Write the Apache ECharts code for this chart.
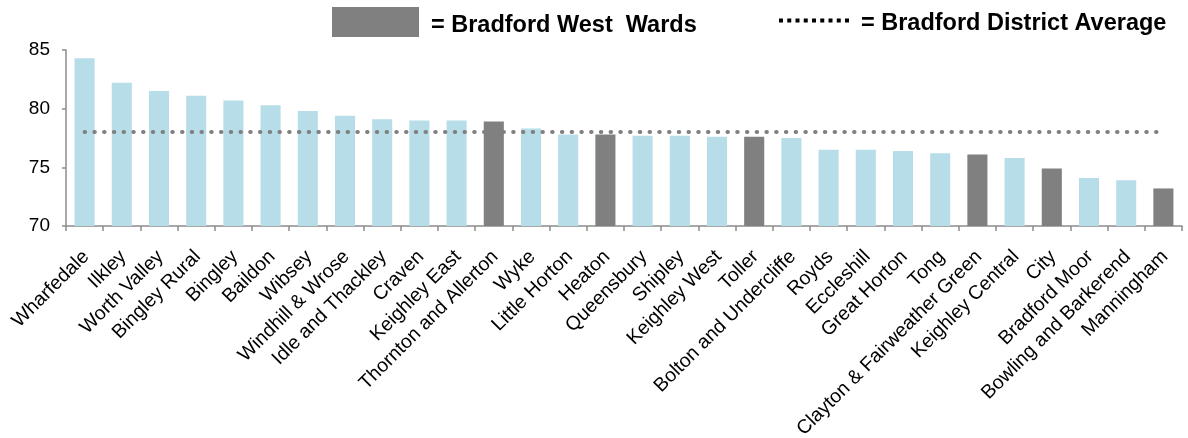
<!DOCTYPE html>
<html>
<head>
<meta charset="utf-8">
<script src="https://cdn.jsdelivr.net/npm/echarts@6/dist/echarts.min.js"></script>
<style>
html,body{margin:0;padding:0;background:#fff;}
#chart{width:1188px;height:438px;}
</style>
</head>
<body>
<div id="chart"></div>
<script>
const wards = ['Wharfedale','Ilkley','Worth Valley','Bingley Rural','Bingley','Baildon','Wibsey','Windhill & Wrose','Idle and Thackley','Craven','Keighley East','Thornton and Allerton','Wyke','Little Horton','Heaton','Queensbury','Shipley','Keighley West','Toller','Bolton and Undercliffe','Royds','Eccleshill','Great Horton','Tong','Clayton & Fairweather Green','Keighley Central','City','Bradford Moor','Bowling and Barkerend','Manningham'];
const values = [84.3,82.2,81.5,81.1,80.7,80.3,79.8,79.4,79.1,79.0,79.0,78.9,78.3,77.8,77.8,77.7,77.7,77.6,77.6,77.5,76.5,76.5,76.4,76.2,76.1,75.8,74.9,74.1,73.9,73.2];
const westWards = ['Thornton and Allerton','Heaton','Toller','Clayton & Fairweather Green','City','Manningham'];
const districtAverage = 78.0;
const yTicks = [70, 75, 80, 85];

const GRAY = '#808080';
const BLUE = '#b7dde8';
const AXIS = '#8c8c8c';
const FONT = '"Liberation Sans", Arial, sans-serif';

// legend icon: a row of small square dots
const dotIcon = 'path://' + Array.from({ length: 9 }, (_, k) => {
  const x = k * 8.25;
  return 'M' + x + ',0h4v4h-4z';
}).join(' ');

const legendText = {
  fontFamily: FONT, fontWeight: 'bold', fontSize: 23.5, color: '#000', padding: [0, 0, 0, 7],
  rich: { t: { fontFamily: FONT, fontWeight: 'bold', fontSize: 23.5, color: '#000', padding: [7, 0, 0, 0] } }
};

const barData = wards.map((w, i) => ({
  value: values[i],
  itemStyle: { color: westWards.includes(w) ? GRAY : BLUE }
}));

const chart = echarts.init(document.getElementById('chart'), null, { renderer: 'canvas' });
chart.setOption({
  animation: false,
  backgroundColor: '#fff',
  grid: { left: 66, right: 6, top: 50, bottom: 212, containLabel: false, outerBoundsMode: 'none' },
  legend: [
    {
      data: ['= Bradford West  Wards'],
      left: 332, top: 7, padding: 0,
      icon: 'rect', itemWidth: 87, itemHeight: 30,
      formatter: '{t|{name}}',
      textStyle: legendText,
      selectedMode: false
    },
    {
      data: [{ name: '= Bradford District Average', icon: dotIcon }],
      left: 779, top: 12, padding: 0,
      itemWidth: 70, itemHeight: 4,
      itemStyle: { color: '#000', borderWidth: 0 },
      formatter: '{t|{name}}',
      textStyle: legendText,
      selectedMode: false
    }
  ],
  xAxis: {
    type: 'category',
    data: wards,
    boundaryGap: true,
    axisLine: { show: true, lineStyle: { color: AXIS, width: 1.5 } },
    axisTick: { show: true, alignWithLabel: false, length: 5, lineStyle: { color: AXIS, width: 1.5 } },
    axisLabel: {
      interval: 0, rotate: 45, margin: 15, verticalAlign: 'top', padding: [0, 8, 0, 0],
      fontFamily: FONT, fontSize: 19.5, color: '#000'
    },
    splitLine: { show: false }
  },
  yAxis: {
    type: 'value',
    min: yTicks[0], max: yTicks[yTicks.length - 1], interval: 5,
    axisLine: { show: true, lineStyle: { color: AXIS, width: 1.5 } },
    axisTick: { show: true, length: 4, lineStyle: { color: AXIS, width: 1.5 } },
    axisLabel: { margin: 16, fontFamily: FONT, fontSize: 19, color: '#000' },
    splitLine: { show: false }
  },
  series: [
    {
      name: '= Bradford West  Wards',
      type: 'bar',
      data: barData,
      barCategoryGap: '46%',
      itemStyle: { color: GRAY },
      silent: true
    },
    {
      name: '= Bradford District Average',
      type: 'line',
      data: [],
      symbol: 'none',
      showSymbol: false,
      lineStyle: { color: GRAY, width: 4, type: [0.5, 9.24], cap: 'round' },
      itemStyle: { color: '#000' },
      silent: true,
      markLine: {
        silent: true,
        symbol: 'none',
        label: { show: false },
        lineStyle: { color: GRAY, width: 4, type: [0.5, 9.24], cap: 'round' },
        data: [[
          { coord: [wards[0], districtAverage] },
          { coord: [wards[wards.length - 1], districtAverage] }
        ]]
      }
    }
  ]
});
</script>
</body>
</html>
